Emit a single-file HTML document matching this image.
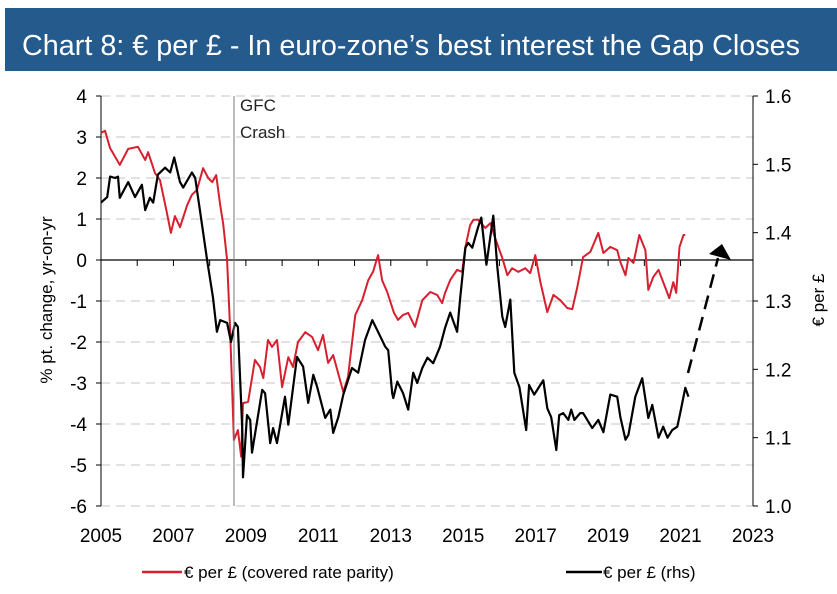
<!DOCTYPE html>
<html><head><meta charset="utf-8"><style>
body{margin:0;background:#fff}
svg{display:block;font-family:"Liberation Sans",sans-serif}
</style></head><body>
<svg id="c" width="837" height="594" viewBox="0 0 837 594">
<rect x="5" y="8" width="832" height="63" fill="#255a8c"/>
<text x="22" y="55" fill="#fff" font-size="29" textLength="778" lengthAdjust="spacingAndGlyphs">Chart 8: € per £ - In euro-zone’s best interest the Gap Closes</text>
<g id="grid"></g><g id="axes"></g><g id="series"></g>
<line x1="234" y1="96" x2="234" y2="506" stroke="#777" stroke-width="1"/>
<text x="240" y="111" font-size="17" fill="#222">GFC</text>
<text x="240" y="138" font-size="17" fill="#222">Crash</text>
<line x1="688" y1="373" x2="718" y2="258" stroke="#000" stroke-width="2.5" stroke-dasharray="14,8"/>
<polygon points="709,254 722,244 731,260" fill="#000"/>
<text x="0" y="0" transform="translate(52,300) rotate(-90)" text-anchor="middle" font-size="17">% pt. change, yr-on-yr</text>
<text x="0" y="0" transform="translate(824,300) rotate(-90)" text-anchor="middle" font-size="17">€ per £</text>
<line x1="142" y1="572" x2="182" y2="572" stroke="#d7202f" stroke-width="2.5"/>
<text x="184" y="578" font-size="17">€ per £ (covered rate parity)</text>
<line x1="566" y1="572" x2="602" y2="572" stroke="#000" stroke-width="2.5"/>
<text x="603" y="578" font-size="17">€ per £ (rhs)</text>
</svg>
<script>
const leftTicks=[4,3,2,1,0,-1,-2,-3,-4,-5,-6];
const rightTicks=[1.6,1.5,1.4,1.3,1.2,1.1,1.0];
const xTicks=[2005,2007,2009,2011,2013,2015,2017,2019,2021,2023];
const redX=[0,0.11,0.25,0.52,0.75,1.02,1.22,1.30,1.49,1.63,1.82,1.93,2.04,2.18,2.38,2.51,2.65,2.82,2.96,3.07,3.18,3.29,3.37,3.48,3.56,3.67,3.78,3.87,3.92,4.06,4.25,4.39,4.48,4.61,4.72,4.86,5.0,5.17,5.30,5.44,5.64,5.83,5.99,6.13,6.27,6.41,6.69,6.82,7.02,7.21,7.38,7.51,7.65,7.76,7.90,8.09,7.98+0.22,8.34,8.48,8.67,8.87,9.09,9.28,9.42,9.50,9.64,9.83,9.97,10.06,10.19,10.28,10.41,10.61,10.75,10.88,11.08,11.22,11.35,11.52,11.71,11.85,11.99,12.13,12.32,12.49,12.68,12.87,13.01,13.15,13.31,13.51,13.73,13.87,14.06,14.25,14.34,14.48,14.56,14.70,14.86,15.03,15.11,15.25,15.39,15.52,15.69,15.80,15.88,15.97,16.08,16.13];
const redY=[3.1,3.15,2.73,2.32,2.71,2.76,2.44,2.63,2.12,1.95,1.15,0.66,1.07,0.8,1.34,1.59,1.71,2.24,2.0,1.9,2.07,1.34,0.9,0,-1.63,-4.39,-4.15,-4.8,-3.49,-3.46,-2.44,-2.61,-2.88,-1.95,-2.12,-1.95,-3.1,-2.37,-2.61,-2.0,-1.76,-1.88,-2.2,-1.83,-2.51,-2.32,-3.22,-2.85,-1.34,-0.98,-0.49,-0.29,0.12,-0.49,-0.78,-1.29,-1.46,-1.34,-1.29,-1.63,-0.98,-0.78,-0.85,-1.05,-0.8,-0.49,-0.24,-0.29,0.32,0.85,0.98,0.98,0.78,0.9,0.54,0.05,-0.37,-0.2,-0.29,-0.2,-0.32,0.12,-0.54,-1.27,-0.85,-0.98,-1.17,-1.2,-0.66,0.07,0.2,0.66,0.17,0.32,0.24,-0.05,-0.37,0.05,-0.07,0.61,0.24,-0.73,-0.41,-0.24,-0.54,-0.93,-0.54,-0.8,0.32,0.61,0.61];
const blackX=[0,0.17,0.25,0.39,0.47,0.52,0.75,0.94,1.13,1.22,1.35,1.44,1.57,1.77,1.91,2.02,2.18,2.27,2.51,2.60,2.73,2.93,3.09,3.20,3.29,3.48,3.59,3.70,3.78,3.90,3.92,4.03,4.12,4.17,4.45,4.53,4.67,4.75,4.86,5.08,5.17,5.41,5.58,5.72,5.86,5.97,6.19,6.33,6.41,6.55,6.69,6.93,7.10,7.29,7.49,7.62,7.85,7.93,8.04,8.07,8.18,8.34,8.48,8.62,8.73,8.87,9.01,9.17,9.36,9.50,9.64,9.83,9.92,10.06,10.14,10.25,10.41,10.50,10.64,10.83,10.94,11.08,11.16,11.30,11.41,11.55,11.74,11.82,11.96,12.21,12.32,12.43,12.57,12.65,12.76,12.90,12.98,13.07,13.23,13.31,13.56,13.73,13.87,14.06,14.25,14.34,14.48,14.56,14.75,14.94,15.11,15.22,15.39,15.52,15.64,15.77,15.91,15.99,16.13,16.22];
const blackY=[1.444,1.452,1.482,1.480,1.482,1.451,1.474,1.452,1.470,1.433,1.451,1.444,1.485,1.495,1.488,1.510,1.474,1.466,1.488,1.480,1.433,1.360,1.306,1.255,1.272,1.268,1.240,1.268,1.262,1.111,1.042,1.133,1.126,1.078,1.170,1.165,1.092,1.114,1.092,1.160,1.119,1.218,1.204,1.151,1.192,1.174,1.129,1.141,1.107,1.130,1.163,1.202,1.195,1.243,1.272,1.258,1.233,1.228,1.165,1.158,1.182,1.165,1.141,1.195,1.180,1.202,1.217,1.209,1.233,1.261,1.283,1.255,1.306,1.378,1.385,1.378,1.408,1.422,1.353,1.425,1.350,1.277,1.262,1.302,1.195,1.174,1.111,1.177,1.163,1.184,1.143,1.130,1.082,1.133,1.136,1.126,1.141,1.126,1.136,1.136,1.114,1.126,1.108,1.163,1.160,1.130,1.097,1.104,1.160,1.187,1.129,1.148,1.100,1.116,1.100,1.111,1.116,1.136,1.173,1.160];

const NS="http://www.w3.org/2000/svg";
const X0=101,X1=753,Y0=96,Y1=506;
const xs=yr=>X0+(yr-2005)/18*(X1-X0);
const xo=off=>xs(2005+off);
const yl=v=>Y1-(v+6)/10*(Y1-Y0);
const yr=v=>Y1-(v-1.0)/0.6*(Y1-Y0);
function mk(tag,attrs,parent){const e=document.createElementNS(NS,tag);for(const k in attrs)e.setAttribute(k,attrs[k]);parent.appendChild(e);return e;}
const grid=document.getElementById('grid'),axes=document.getElementById('axes'),ser=document.getElementById('series');
leftTicks.forEach(t=>{
  const y=yl(t);
  if(t!==0){const g=mk('line',{x1:X0,x2:X1,y1:y,y2:y,stroke:'#d9d9d9','stroke-width':1.5,'stroke-dasharray':'9,6'},grid);
  
  }
  const tk=mk('line',{x1:X0-5,x2:X0,y1:y,y2:y,stroke:'#000'},axes);
  
  
  const lb=mk('text',{x:X0-14,y:y+7,'text-anchor':'end','font-size':19},axes);lb.textContent=t;
  
  
});
rightTicks.forEach(t=>{
  const y=yr(t);
  const tk=mk('line',{x1:X1,x2:X1+5,y1:y,y2:y,stroke:'#000'},axes);
  
  
  const lb=mk('text',{x:X1+12,y:y+7,'font-size':19},axes);lb.textContent=t.toFixed(1);
  
  
});
const la=mk('line',{x1:X0,x2:X0,y1:Y0,y2:Y1,stroke:'#000'},axes);


const ra=mk('line',{x1:X1,x2:X1,y1:Y0,y2:Y1,stroke:'#000'},axes);


const z=yl(0);
const za=mk('line',{x1:X0,x2:X1,y1:z,y2:z,stroke:'#000','stroke-width':1.3},axes);


for(let y=2005;y<=2023;y++){const tk=mk('line',{x1:xs(y),x2:xs(y),y1:z,y2:z+6,stroke:'#000'},axes);
  
  }
xTicks.forEach(t=>{const lb=mk('text',{x:xs(t),y:542,'text-anchor':'middle','font-size':19},axes);lb.textContent=t;
  
  });
const rp=mk('polyline',{points:redX.map((x,i)=>xo(x).toFixed(1)+','+yl(redY[i]).toFixed(1)).join(' '),fill:'none',stroke:'#d7202f','stroke-width':2,'stroke-linejoin':'round'},ser);


const bp=mk('polyline',{points:blackX.map((x,i)=>xo(x).toFixed(1)+','+yr(blackY[i]).toFixed(1)).join(' '),fill:'none',stroke:'#000','stroke-width':2.2,'stroke-linejoin':'round'},ser);


</script>
</body></html>
